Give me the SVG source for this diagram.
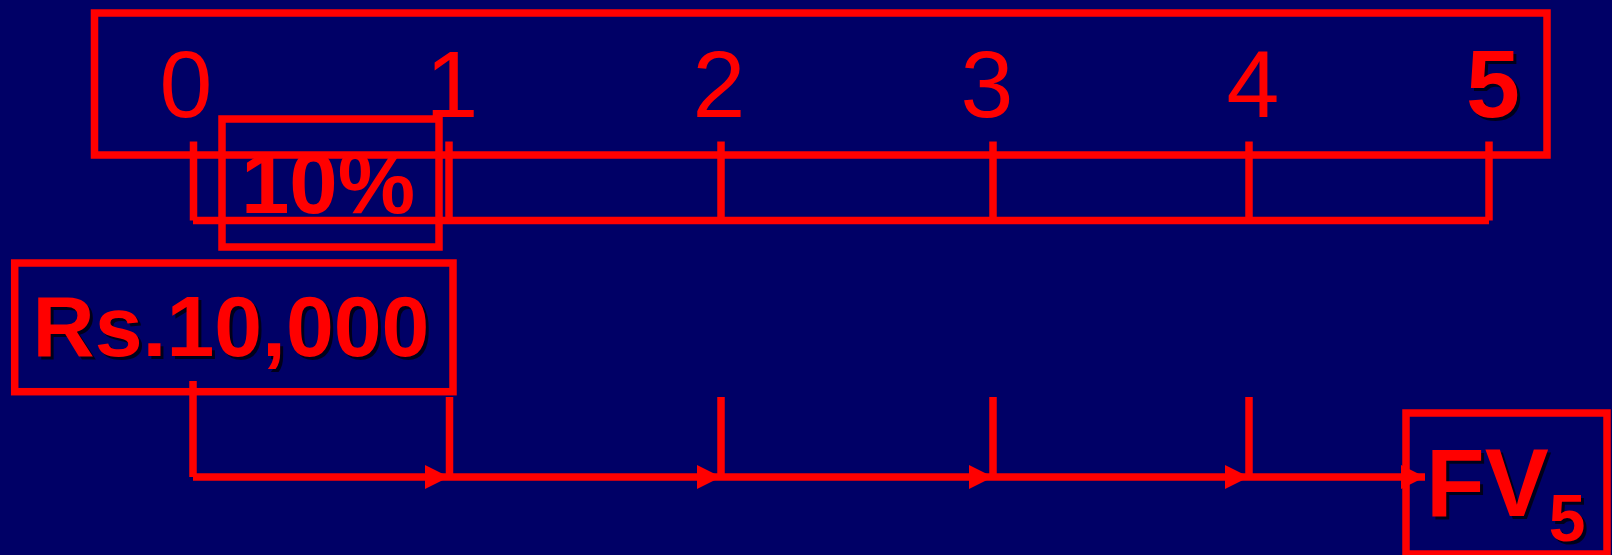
<svg xmlns="http://www.w3.org/2000/svg" width="1612" height="555" viewBox="0 0 1612 555">
<defs>
<style>
.box{fill:none;stroke:#ff0000;stroke-width:7.5}
.ln{fill:none;stroke:#ff0000;stroke-width:7.5}
.num{font-family:"Liberation Sans",Arial,sans-serif;font-size:95px;fill:#ff0000;text-anchor:middle}
.bold{font-family:"Liberation Sans",Arial,sans-serif;font-weight:bold;fill:#ff0000}
.sh{fill:#000000;opacity:0.75}
</style>
<marker id="arr" markerWidth="24" markerHeight="24" refX="24" refY="12" orient="auto" markerUnits="userSpaceOnUse">
<path d="M0,0 L24,12 L0,24 Z" fill="#ff0000"/>
</marker>
</defs>
<rect width="1612" height="555" fill="#000066"/>
<g id="periods">
<rect class="box" x="94.5" y="13" width="1452.5" height="142"/>
<text class="num" x="186" y="116.5">0</text>
<text class="num" x="452" y="116.5">1</text>
<text class="num" x="719" y="116.5">2</text>
<text class="num" x="987" y="116.5">3</text>
<text class="num" x="1253" y="116.5">4</text>
<text class="bold sh" x="1496" y="119.5" font-size="97" text-anchor="middle">5</text>
<text class="bold" x="1493" y="116.5" font-size="97" text-anchor="middle">5</text>
</g>
<g id="rate">
<rect class="box" x="222" y="119" width="217" height="128"/>
<text class="bold" x="328" y="213" font-size="87" text-anchor="middle">10%</text>
</g>
<g id="pv">
<rect class="box" x="14.7" y="263" width="438.3" height="128.7"/>
<text class="bold sh" x="234" y="359" font-size="86" text-anchor="middle">Rs.10,000</text>
<text class="bold" x="231" y="356" font-size="86" text-anchor="middle">Rs.10,000</text>
</g>
<g id="fv">
<rect class="box" x="1406" y="413" width="201" height="141"/>
<text class="bold sh" x="1429" y="519" font-size="96">FV<tspan font-size="66" dy="25">5</tspan></text>
<text class="bold" x="1426" y="516" font-size="96">FV<tspan font-size="66" dy="25">5</tspan></text>
</g>
<g id="connectors">
<line class="ln" x1="193.5" y1="141.5" x2="193.5" y2="220.5"/>
<line class="ln" x1="449" y1="141.5" x2="449" y2="220.5"/>
<line class="ln" x1="721" y1="141.5" x2="721" y2="220.5"/>
<line class="ln" x1="993" y1="141.5" x2="993" y2="220.5"/>
<line class="ln" x1="1249" y1="141.5" x2="1249" y2="220.5"/>
<line class="ln" x1="1489" y1="141.5" x2="1489" y2="220.5"/>
<line class="ln" x1="193" y1="220.5" x2="1489" y2="220.5"/>
<line class="ln" x1="193" y1="381" x2="193" y2="477"/>
<line class="ln" x1="449.5" y1="397" x2="449.5" y2="477"/>
<line class="ln" x1="721" y1="397" x2="721" y2="477"/>
<line class="ln" x1="993" y1="397" x2="993" y2="477"/>
<line class="ln" x1="1249" y1="397" x2="1249" y2="477"/>
<line class="ln" x1="193" y1="477" x2="449" y2="477" marker-end="url(#arr)"/>
<line class="ln" x1="449" y1="477" x2="721" y2="477" marker-end="url(#arr)"/>
<line class="ln" x1="721" y1="477" x2="993" y2="477" marker-end="url(#arr)"/>
<line class="ln" x1="993" y1="477" x2="1249" y2="477" marker-end="url(#arr)"/>
<line class="ln" x1="1249" y1="477" x2="1425" y2="477" marker-end="url(#arr)"/>
</g>
</svg>
